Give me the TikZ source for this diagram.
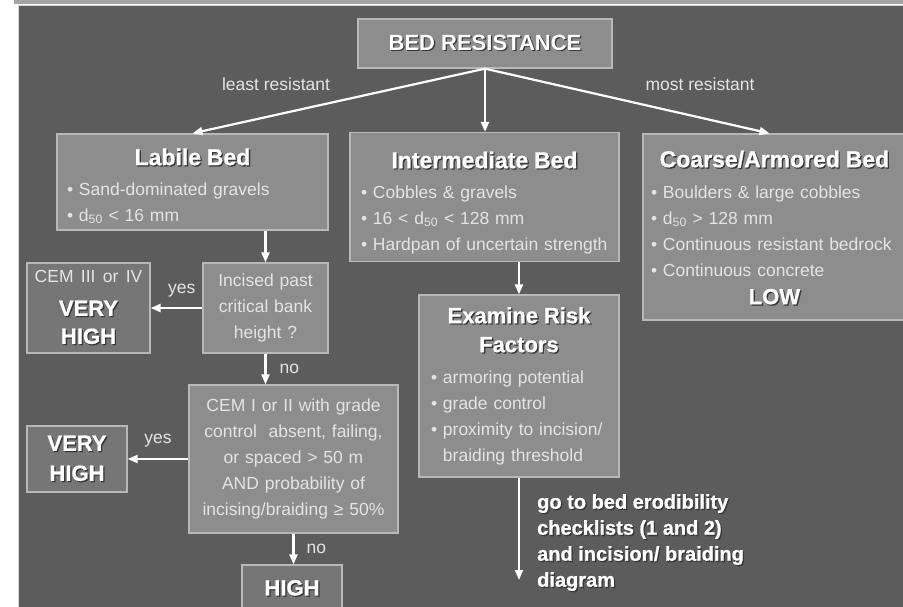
\documentclass[tikz,border=0pt]{standalone}
\usepackage{fontspec}
\setmainfont{Liberation Sans}
\newfontfamily\heavyfont[FakeBold=0.8]{Liberation Sans Bold}
\usepackage{xcolor}
\usepackage{tikz}
\usetikzlibrary{arrows.meta, positioning}
\definecolor{slatebg}{HTML}{5C5C5C}
\definecolor{boxgray}{HTML}{8D8D8D}
\definecolor{rategray}{HTML}{767676}
\definecolor{edgegray}{HTML}{B8B8B8}
\definecolor{bodytxt}{HTML}{E4E4E4}
\definecolor{shadegray}{HTML}{383838}
\definecolor{topbar}{HTML}{A4A4A4}

\newcommand{\bodyfont}{\fontsize{17.5}{26}\selectfont}
\newcommand{\shad}[1]{\leavevmode\rlap{\kern1.3pt\raisebox{-1.3pt}{\textcolor{shadegray}{#1}}}\textcolor{white}{#1}}
\newcommand{\ttl}[2][0pt]{\makebox[\hsize]{\rule{0pt}{#1}\fontsize{23}{26}\selectfont\heavyfont\shad{#2}}}
\newcommand{\dfifty}{d\textsubscript{50}}

\begin{document}
\begin{tikzpicture}[
  x=1pt, y=-1pt,
  >=Triangle,
  bedbox/.style={draw=edgegray, line width=1.3pt, fill=boxgray, text=bodytxt,
    inner ysep=0pt, align=left, font=\bodyfont},
  askbox/.style={draw=edgegray, line width=1.3pt, fill=boxgray, text=bodytxt,
    inner sep=0pt, align=center, font=\bodyfont},
  ratebox/.style={draw=edgegray, line width=1.3pt, fill=rategray, text=white,
    inner sep=0pt, align=center, font=\fontsize{22}{30}\selectfont\heavyfont},
  lbl/.style={text=bodytxt, font=\bodyfont, inner sep=1pt},
  arr/.style={-{Triangle[width=8pt,length=10pt]}, draw=white, line width=2.2pt}
]

% ---- Slide background ----
\useasboundingbox (0,0) rectangle (903,606);
\fill[white] (0,0) rectangle (903,606);
\fill[topbar] (14,0) rectangle (903,4);
\filldraw[fill=slatebg, draw=white!85!black, line width=1pt] (18,5.5) rectangle (912,614);

% ---- Root ----
\node[askbox, minimum width=254pt, minimum height=49pt,
  font=\fontsize{22}{26}\selectfont\bfseries] (root) at (485,43.5) {\shad{BED RESISTANCE}};
\node[lbl] (least) at (276,84) {least resistant};
\node[lbl] (most) at (700,84) {most resistant};

% ---- Bed types ----
\node[bedbox, inner xsep=10pt, text width=251pt, minimum height=96pt] (labile) at (192.5,182)
  {\ttl[25pt]{Labile Bed}\\[4pt]
   \textbullet\ Sand-dominated gravels\\
   \textbullet\ \dfifty{} < 16 mm};

\node[bedbox, inner xsep=11pt, text width=247pt, minimum height=129pt] (inter) at (484.5,197)
  {\ttl[28pt]{Intermediate Bed}\\[4pt]
   \textbullet\ Cobbles \& gravels\\
   \textbullet\ 16 < \dfifty{} < 128 mm\\
   \textbullet\ Hardpan of uncertain strength};

\node[bedbox, inner xsep=8pt, text width=247pt, minimum height=186pt] (coarse) at (774.5,227)
  {\ttl[19pt]{Coarse/Armored Bed}\\[5pt]
   \textbullet\ Boulders \& large cobbles\\
   \textbullet\ \dfifty{} > 128 mm\\
   \textbullet\ Continuous resistant bedrock\\
   \textbullet\ Continuous concrete\\[2pt]
   \makebox[\hsize]{\fontsize{22}{26}\selectfont\heavyfont\shad{LOW}}};

\draw[arr] (root.south) -- (labile.north);
\draw[arr] (root.south) -- (root.south |- inter.north);
\draw[arr] (root.south) -- ([xshift=-5pt]coarse.north);

% ---- Labile branch ----
\node[askbox, text width=117pt, minimum width=125pt, minimum height=90pt] (incised) at (265.5,308)
  {Incised past\\ critical bank\\ height ?};
\node[ratebox, text width=115pt, minimum width=123pt, minimum height=90pt] (cemthree) at (88.5,308)
  {{\fontsize{17.5}{26}\selectfont\rmfamily\mdseries\color{bodytxt}CEM III or IV}\\[3pt]
   \shad{VERY}\\[-2pt] \shad{HIGH}};
\node[askbox, text width=201pt, minimum width=209pt, minimum height=148pt] (cemone) at (293.5,459)
  {CEM I or II with grade\\
   control\ \ absent, failing,\\
   or spaced > 50 m\\
   AND probability of\\
   incising/braiding ≥ 50\%};
\node[ratebox, text width=92pt, minimum width=100pt, minimum height=66pt] (vhigh) at (77,459)
  {\shad{VERY}\\ \shad{HIGH}};
\node[ratebox, text width=92pt, minimum width=100pt, minimum height=47pt] (high) at (292,588.5)
  {\shad{HIGH}};

\draw[arr] (labile.south -| incised.north) -- (incised.north);
\draw[arr] (incised.west) -- (cemthree.east) node[lbl, pos=0.4, above=9pt] {yes};
\draw[arr] (incised.south) -- (incised.south |- cemone.north) node[lbl, midway, right=12pt] {no};
\draw[arr] (cemone.west) -- (vhigh.east) node[lbl, midway, above=10pt] {yes};
\draw[arr] (cemone.south) -- (cemone.south |- high.north) node[lbl, midway, right=11pt] {no};

% ---- Intermediate branch ----
\node[bedbox, inner xsep=12pt, text width=176pt, minimum height=182pt] (examine) at (519,386)
  {\makebox[\hsize]{\fontsize{22}{26}\selectfont\heavyfont\shad{Examine Risk}}\\[3pt]
   \makebox[\hsize]{\fontsize{22}{26}\selectfont\heavyfont\shad{Factors}}\\[5pt]
   \textbullet\ armoring potential\\
   \textbullet\ grade control\\
   \textbullet\ proximity to incision/\\
   \phantom{\textbullet\ }braiding threshold};
\coordinate (godown) at (519,580);
\node[anchor=north west, inner sep=0pt, align=left, text=white,
  font=\fontsize{20}{26}\selectfont\heavyfont] (goto) at (537,494)
  {\shad{go to bed erodibility}\\
   \shad{checklists (1 and 2)}\\
   \shad{and incision/ braiding}\\
   \shad{diagram}};

\draw[arr] (inter.south -| examine.north) -- (examine.north);
\draw[arr] (examine.south) -- (godown);

\end{tikzpicture}
\end{document}
